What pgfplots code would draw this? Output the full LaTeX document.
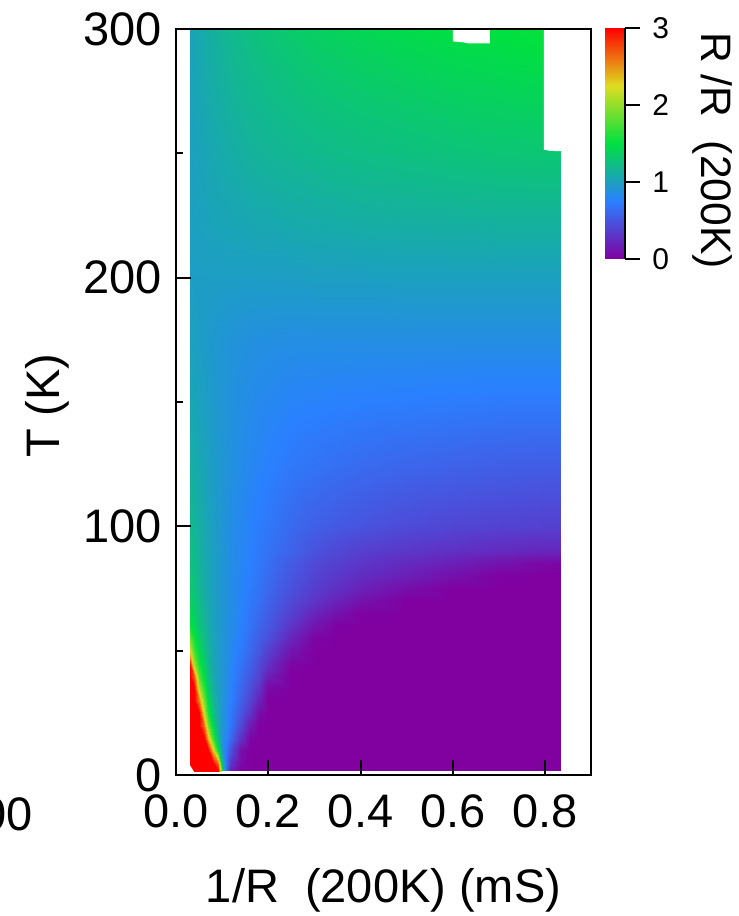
\documentclass[border=0pt]{standalone}
\usepackage{fontspec}
\setmainfont{Liberation Sans}
\usepackage{pgfplots}
\pgfplotsset{compat=1.18}
\pgfplotsset{colormap={rb}{rgb255(0)=(128,0,160); rgb255(1)=(42,128,255); rgb255(2)=(0,224,64); rgb255(3)=(221,221,32); rgb255(4)=(255,0,0)}}
\newcommand{\bigf}{\fontsize{23.5}{28}\selectfont}
\newcommand{\smf}{\fontsize{15}{18}\selectfont}
\begin{document}
\begin{tikzpicture}
\path[use as bounding box] (-88pt,-70.5pt) rectangle (281.5pt,387.5pt);
\begin{axis}[
  at={(0,0)}, anchor=origin, scale only axis, width=207.5pt, height=373pt,
  xmin=0, xmax=0.899, ymin=0, ymax=300,
  axis on top, axis line style={line width=1pt},
  xtick pos=bottom, ytick pos=left,
  enlargelimits=false,
  xtick={0,0.2,0.4,0.6,0.8}, xticklabels={0.0,0.2,0.4,0.6,0.8},
  ytick={0,100,200,300}, minor ytick={50,150,250},
  tick style={black,line width=1pt},
  major tick length=7.5pt, minor tick length=3.5pt,
  tick align=inside,
  ticklabel style={font=\bigf},
  /pgf/number format/assume math mode=true,
  xlabel={1/R\ \ (200K) (mS)}, ylabel={T (K)},
  label style={font=\bigf},
  xlabel style={at={(axis description cs:0.5,-0.155)},anchor=center},
  ylabel style={at={(axis description cs:-0.31,0.495)},anchor=center},
  colormap name=rb, point meta min=0, point meta max=3,
  yticklabel style={inner sep=0pt,xshift=-7pt},
  xticklabel style={inner sep=0pt,yshift=-9.5pt},
]
\addplot[surf, shader=interp, mesh/cols=23, mesh/rows=28, point meta=explicit] coordinates {
(.03,1.5)[3] (.04,1.5)[3] (.05,1.5)[3] (.06,1.5)[3] (.07,1.5)[3] (.08,1.5)[3] (.09,1.5)[3] (.10,1.5)[1.5] (.11,1.5)[.5] (.12,1.5)[.15] (.14,1.5)[0] (.16,1.5)[0] (.18,1.5)[0] (.20,1.5)[0] (.25,1.5)[0] (.30,1.5)[0] (.35,1.5)[0] (.40,1.5)[0] (.50,1.5)[0] (.60,1.5)[0] (.70,1.5)[0] (.80,1.5)[0] (.834,1.5)[0]
(.03,5)[3] (.04,5)[3] (.05,5)[3] (.06,5)[3] (.07,5)[3] (.08,5)[3] (.09,5)[2.6] (.10,5)[1.2] (.11,5)[.6] (.12,5)[.3] (.14,5)[.05] (.16,5)[0] (.18,5)[0] (.20,5)[0] (.25,5)[0] (.30,5)[0] (.35,5)[0] (.40,5)[0] (.50,5)[0] (.60,5)[0] (.70,5)[0] (.80,5)[0] (.834,5)[0]
(.03,10)[3] (.04,10)[3] (.05,10)[3] (.06,10)[3] (.07,10)[3] (.08,10)[2.3] (.09,10)[1.5] (.10,10)[.95] (.11,10)[.65] (.12,10)[.45] (.14,10)[.08] (.16,10)[0] (.18,10)[0] (.20,10)[0] (.25,10)[0] (.30,10)[0] (.35,10)[0] (.40,10)[0] (.50,10)[0] (.60,10)[0] (.70,10)[0] (.80,10)[0] (.834,10)[0]
(.03,15)[3] (.04,15)[3] (.05,15)[3] (.06,15)[3] (.07,15)[2.4] (.08,15)[1.7] (.09,15)[1.2] (.10,15)[.9] (.11,15)[.75] (.12,15)[.6] (.14,15)[.28] (.16,15)[.03] (.18,15)[0] (.20,15)[0] (.25,15)[0] (.30,15)[0] (.35,15)[0] (.40,15)[0] (.50,15)[0] (.60,15)[0] (.70,15)[0] (.80,15)[0] (.834,15)[0]
(.03,20)[3] (.04,20)[3] (.05,20)[3] (.06,20)[2.6] (.07,20)[1.9] (.08,20)[1.4] (.09,20)[1.1] (.10,20)[.92] (.11,20)[.8] (.12,20)[.68] (.14,20)[.42] (.16,20)[.15] (.18,20)[0] (.20,20)[0] (.25,20)[0] (.30,20)[0] (.35,20)[0] (.40,20)[0] (.50,20)[0] (.60,20)[0] (.70,20)[0] (.80,20)[0] (.834,20)[0]
(.03,25)[3] (.04,25)[3] (.05,25)[3] (.06,25)[2.2] (.07,25)[1.6] (.08,25)[1.25] (.09,25)[1.05] (.10,25)[.92] (.11,25)[.8] (.12,25)[.7] (.14,25)[.5] (.16,25)[.3] (.18,25)[.07] (.20,25)[0] (.25,25)[0] (.30,25)[0] (.35,25)[0] (.40,25)[0] (.50,25)[0] (.60,25)[0] (.70,25)[0] (.80,25)[0] (.834,25)[0]
(.03,30)[3] (.04,30)[3] (.05,30)[2.55] (.06,30)[1.9] (.07,30)[1.45] (.08,30)[1.18] (.09,30)[1.02] (.10,30)[.92] (.11,30)[.82] (.12,30)[.75] (.14,30)[.56] (.16,30)[.4] (.18,30)[.2] (.20,30)[0] (.25,30)[0] (.30,30)[0] (.35,30)[0] (.40,30)[0] (.50,30)[0] (.60,30)[0] (.70,30)[0] (.80,30)[0] (.834,30)[0]
(.03,35)[3] (.04,35)[3] (.05,35)[2.1] (.06,35)[1.65] (.07,35)[1.33] (.08,35)[1.12] (.09,35)[1] (.10,35)[.92] (.11,35)[.84] (.12,35)[.76] (.14,35)[.6] (.16,35)[.46] (.18,35)[.3] (.20,35)[.05] (.25,35)[0] (.30,35)[0] (.35,35)[0] (.40,35)[0] (.50,35)[0] (.60,35)[0] (.70,35)[0] (.80,35)[0] (.834,35)[0]
(.03,40)[3] (.04,40)[2.7] (.05,40)[1.8] (.06,40)[1.45] (.07,40)[1.25] (.08,40)[1.08] (.09,40)[.98] (.10,40)[.92] (.11,40)[.85] (.12,40)[.78] (.14,40)[.64] (.16,40)[.52] (.18,40)[.38] (.20,40)[.18] (.25,40)[0] (.30,40)[0] (.35,40)[0] (.40,40)[0] (.50,40)[0] (.60,40)[0] (.70,40)[0] (.80,40)[0] (.834,40)[0]
(.03,44)[3] (.04,44)[2.1] (.05,44)[1.6] (.06,44)[1.38] (.07,44)[1.2] (.08,44)[1.06] (.09,44)[.98] (.10,44)[.92] (.11,44)[.86] (.12,44)[.79] (.14,44)[.67] (.16,44)[.56] (.18,44)[.43] (.20,44)[.27] (.25,44)[.02] (.30,44)[0] (.35,44)[0] (.40,44)[0] (.50,44)[0] (.60,44)[0] (.70,44)[0] (.80,44)[0] (.834,44)[0]
(.03,50)[2.2] (.04,50)[1.75] (.05,50)[1.45] (.06,50)[1.28] (.07,50)[1.15] (.08,50)[1.04] (.09,50)[.97] (.10,50)[.92] (.11,50)[.87] (.12,50)[.81] (.14,50)[.71] (.16,50)[.61] (.18,50)[.5] (.20,50)[.38] (.25,50)[.12] (.30,50)[0] (.35,50)[0] (.40,50)[0] (.50,50)[0] (.60,50)[0] (.70,50)[0] (.80,50)[0] (.834,50)[0]
(.03,55)[1.85] (.04,55)[1.55] (.05,55)[1.35] (.06,55)[1.23] (.07,55)[1.12] (.08,55)[1.03] (.09,55)[.97] (.10,55)[.92] (.11,55)[.87] (.12,55)[.83] (.14,55)[.74] (.16,55)[.64] (.18,55)[.55] (.20,55)[.46] (.25,55)[.22] (.30,55)[.03] (.35,55)[0] (.40,55)[0] (.50,55)[0] (.60,55)[0] (.70,55)[0] (.80,55)[0] (.834,55)[0]
(.03,60)[1.55] (.04,60)[1.42] (.05,60)[1.28] (.06,60)[1.18] (.07,60)[1.09] (.08,60)[1.02] (.09,60)[.96] (.10,60)[.92] (.11,60)[.88] (.12,60)[.84] (.14,60)[.76] (.16,60)[.67] (.18,60)[.59] (.20,60)[.52] (.25,60)[.31] (.30,60)[.12] (.35,60)[.01] (.40,60)[0] (.50,60)[0] (.60,60)[0] (.70,60)[0] (.80,60)[0] (.834,60)[0]
(.03,65)[1.45] (.04,65)[1.35] (.05,65)[1.24] (.06,65)[1.15] (.07,65)[1.08] (.08,65)[1.01] (.09,65)[.96] (.10,65)[.92] (.11,65)[.88] (.12,65)[.85] (.14,65)[.77] (.16,65)[.69] (.18,65)[.62] (.20,65)[.55] (.25,65)[.38] (.30,65)[.22] (.35,65)[.1] (.40,65)[.01] (.50,65)[0] (.60,65)[0] (.70,65)[0] (.80,65)[0] (.834,65)[0]
(.03,70)[1.38] (.04,70)[1.3] (.05,70)[1.21] (.06,70)[1.13] (.07,70)[1.06] (.08,70)[1.0] (.09,70)[.96] (.10,70)[.92] (.11,70)[.88] (.12,70)[.85] (.14,70)[.78] (.16,70)[.71] (.18,70)[.65] (.20,70)[.58] (.25,70)[.43] (.30,70)[.31] (.35,70)[.2] (.40,70)[.1] (.50,70)[0] (.60,70)[0] (.70,70)[0] (.80,70)[0] (.834,70)[0]
(.03,75)[1.33] (.04,75)[1.26] (.05,75)[1.18] (.06,75)[1.11] (.07,75)[1.05] (.08,75)[1] (.09,75)[.95] (.10,75)[.92] (.11,75)[.88] (.12,75)[.85] (.14,75)[.79] (.16,75)[.73] (.18,75)[.67] (.20,75)[.61] (.25,75)[.47] (.30,75)[.36] (.35,75)[.27] (.40,75)[.19] (.50,75)[.08] (.60,75)[0] (.70,75)[0] (.80,75)[0] (.834,75)[0]
(.03,80)[1.3] (.04,80)[1.24] (.05,80)[1.16] (.06,80)[1.1] (.07,80)[1.04] (.08,80)[1] (.09,80)[.95] (.10,80)[.92] (.11,80)[.88] (.12,80)[.85] (.14,80)[.79] (.16,80)[.74] (.18,80)[.69] (.20,80)[.63] (.25,80)[.5] (.30,80)[.4] (.35,80)[.32] (.40,80)[.26] (.50,80)[.18] (.60,80)[.09] (.70,80)[.01] (.80,80)[0] (.834,80)[0]
(.03,85)[1.27] (.04,85)[1.21] (.05,85)[1.15] (.06,85)[1.09] (.07,85)[1.04] (.08,85)[.99] (.09,85)[.95] (.10,85)[.92] (.11,85)[.88] (.12,85)[.85] (.14,85)[.8] (.16,85)[.75] (.18,85)[.7] (.20,85)[.65] (.25,85)[.53] (.30,85)[.43] (.35,85)[.37] (.40,85)[.31] (.50,85)[.24] (.60,85)[.18] (.70,85)[.1] (.80,85)[.04] (.834,85)[.03]
(.03,90)[1.25] (.04,90)[1.2] (.05,90)[1.14] (.06,90)[1.08] (.07,90)[1.03] (.08,90)[.99] (.09,90)[.95] (.10,90)[.92] (.11,90)[.88] (.12,90)[.85] (.14,90)[.8] (.16,90)[.76] (.18,90)[.71] (.20,90)[.67] (.25,90)[.58] (.30,90)[.48] (.35,90)[.42] (.40,90)[.37] (.50,90)[.32] (.60,90)[.28] (.70,90)[.25] (.80,90)[.22] (.834,90)[.22]
(.03,100)[1.2] (.04,100)[1.16] (.05,100)[1.11] (.06,100)[1.07] (.07,100)[1.02] (.08,100)[.98] (.09,100)[.95] (.10,100)[.92] (.11,100)[.88] (.12,100)[.85] (.14,100)[.81] (.16,100)[.77] (.18,100)[.73] (.20,100)[.7] (.25,100)[.62] (.30,100)[.56] (.35,100)[.52] (.40,100)[.49] (.50,100)[.44] (.60,100)[.41] (.70,100)[.39] (.80,100)[.38] (.834,100)[.38]
(.03,125)[1.12] (.04,125)[1.09] (.05,125)[1.06] (.06,125)[1.03] (.07,125)[1] (.08,125)[.97] (.09,125)[.95] (.10,125)[.93] (.11,125)[.9] (.12,125)[.88] (.14,125)[.84] (.16,125)[.81] (.18,125)[.78] (.20,125)[.76] (.25,125)[.71] (.30,125)[.68] (.35,125)[.65] (.40,125)[.63] (.50,125)[.6] (.60,125)[.58] (.70,125)[.56] (.80,125)[.55] (.834,125)[.55]
(.03,150)[1.05] (.04,150)[1.03] (.05,150)[1.01] (.06,150)[.99] (.07,150)[.97] (.08,150)[.95] (.09,150)[.93] (.10,150)[.92] (.11,150)[.9] (.12,150)[.89] (.14,150)[.86] (.16,150)[.84] (.18,150)[.82] (.20,150)[.81] (.25,150)[.78] (.30,150)[.77] (.35,150)[.76] (.40,150)[.75] (.50,150)[.74] (.60,150)[.73] (.70,150)[.72] (.80,150)[.72] (.834,150)[.72]
(.03,175)[1.0] (.04,175)[.99] (.05,175)[.98] (.06,175)[.97] (.07,175)[.95] (.08,175)[.94] (.09,175)[.93] (.10,175)[.92] (.11,175)[.91] (.12,175)[.9] (.14,175)[.89] (.16,175)[.88] (.18,175)[.87] (.20,175)[.87] (.25,175)[.86] (.30,175)[.86] (.35,175)[.86] (.40,175)[.86] (.50,175)[.86] (.60,175)[.86] (.70,175)[.86] (.80,175)[.86] (.834,175)[.86]
(.03,200)[.98] (.04,200)[.98] (.05,200)[.98] (.06,200)[.98] (.07,200)[.98] (.08,200)[.98] (.09,200)[.98] (.10,200)[.98] (.11,200)[.98] (.12,200)[.98] (.14,200)[.98] (.16,200)[.98] (.18,200)[.98] (.20,200)[.98] (.25,200)[.98] (.30,200)[.99] (.35,200)[.99] (.40,200)[.99] (.50,200)[1] (.60,200)[1] (.70,200)[1] (.80,200)[1] (.834,200)[1]
(.03,225)[1.0] (.04,225)[1.0] (.05,225)[1.01] (.06,225)[1.01] (.07,225)[1.02] (.08,225)[1.03] (.09,225)[1.03] (.10,225)[1.04] (.11,225)[1.04] (.12,225)[1.05] (.14,225)[1.05] (.16,225)[1.06] (.18,225)[1.07] (.20,225)[1.07] (.25,225)[1.09] (.30,225)[1.1] (.35,225)[1.11] (.40,225)[1.12] (.50,225)[1.13] (.60,225)[1.14] (.70,225)[1.15] (.80,225)[1.15] (.834,225)[1.15]
(.03,250)[1.0] (.04,250)[1.01] (.05,250)[1.02] (.06,250)[1.03] (.07,250)[1.05] (.08,250)[1.06] (.09,250)[1.07] (.10,250)[1.08] (.11,250)[1.09] (.12,250)[1.1] (.14,250)[1.12] (.16,250)[1.14] (.18,250)[1.15] (.20,250)[1.16] (.25,250)[1.18] (.30,250)[1.2] (.35,250)[1.215] (.40,250)[1.23] (.50,250)[1.25] (.60,250)[1.27] (.70,250)[1.29] (.80,250)[1.3] (.834,250)[1.3]
(.03,275)[1.01] (.04,275)[1.03] (.05,275)[1.05] (.06,275)[1.06] (.07,275)[1.08] (.08,275)[1.1] (.09,275)[1.11] (.10,275)[1.12] (.11,275)[1.14] (.12,275)[1.15] (.14,275)[1.17] (.16,275)[1.19] (.18,275)[1.2] (.20,275)[1.22] (.25,275)[1.25] (.30,275)[1.28] (.35,275)[1.3] (.40,275)[1.32] (.50,275)[1.35] (.60,275)[1.38] (.70,275)[1.4] (.80,275)[1.42] (.834,275)[1.42]
(.03,300)[1.02] (.04,300)[1.05] (.05,300)[1.07] (.06,300)[1.09] (.07,300)[1.11] (.08,300)[1.13] (.09,300)[1.15] (.10,300)[1.16] (.11,300)[1.18] (.12,300)[1.2] (.14,300)[1.22] (.16,300)[1.25] (.18,300)[1.27] (.20,300)[1.29] (.25,300)[1.33] (.30,300)[1.37] (.35,300)[1.395] (.40,300)[1.42] (.50,300)[1.46] (.60,300)[1.49] (.70,300)[1.51] (.80,300)[1.53] (.834,300)[1.53]
};
% regions without data
\addplot[fill=white, draw=none] coordinates {(.6,301) (.6,295) (.62,294.7) (.635,294.2) (.68,294.2) (.68,301)} -- cycle;
\addplot[fill=white, draw=none] coordinates {(.797,301) (.797,251.5) (.81,251) (.84,250.8) (.84,301)} -- cycle;
\addplot[fill=white, draw=none] coordinates {(.028,1) (.028,4) (.03,4) (.04,1)} -- cycle;
\addplot[fill=white, draw=none] coordinates {(.1,0) (.1,1.6) (.14,1.6) (.84,1.6) (.84,0)} -- cycle;
\end{axis}
\node[font=\bigf,anchor=east,inner sep=0pt] at (-71.5pt,-19.5pt) {00};
% colour bar
\begin{axis}[
  at={(214.5pt,258pt)}, anchor=origin, scale only axis, width=10pt, height=115.5pt,
  xmin=0, xmax=1, ymin=0, ymax=3,
  enlargelimits=false, axis on top,
  axis y line*=right, axis x line=none,
  axis line style={line width=1pt,-},
  ytick={0,1,2,3}, tick align=outside,
  tick style={black,line width=1pt}, major tick length=7.5pt,
  yticklabel style={font=\smf,inner sep=0pt,xshift=6pt},
  /pgf/number format/assume math mode=true,
  colormap name=rb, point meta min=0, point meta max=3,
  ylabel={R\ /R\ \ (200K)},
  ylabel style={font=\fontsize{21.3}{25}\selectfont,at={(axis description cs:5.4,0.47)},anchor=center,rotate=180},
]
\addplot[surf, shader=interp, mesh/cols=2, mesh/rows=5, point meta=explicit] coordinates {
(0,0)[0] (1,0)[0]
(0,.75)[.75] (1,.75)[.75]
(0,1.5)[1.5] (1,1.5)[1.5]
(0,2.25)[2.25] (1,2.25)[2.25]
(0,3)[3] (1,3)[3]
};
\end{axis}
\end{tikzpicture}
\end{document}
